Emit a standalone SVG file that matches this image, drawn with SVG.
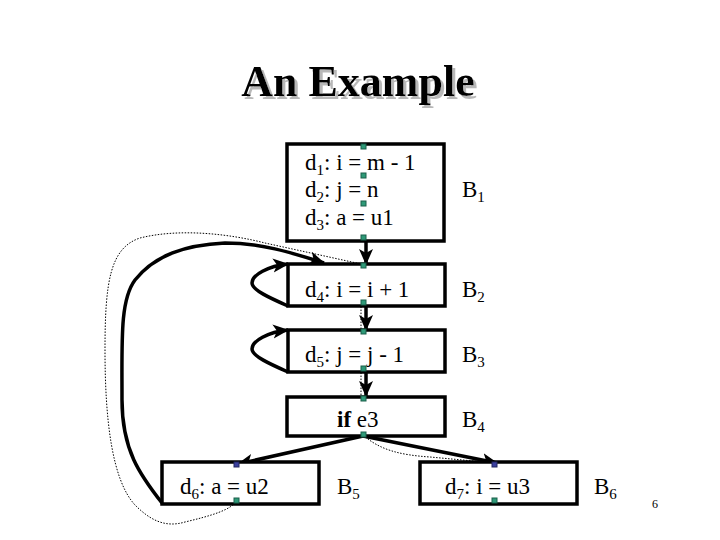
<svg xmlns="http://www.w3.org/2000/svg" width="720" height="540" viewBox="0 0 720 540">
<style>
text{font-family:"Liberation Serif","Times New Roman",Times,"DejaVu Serif",serif}
.box{fill:#fff;stroke:#000;stroke-width:3.5}
.t{font-size:23px;fill:#000}
.sub{font-size:15px}
.ttl{font-weight:bold;font-size:44px}
.edge{fill:none;stroke:#000;stroke-width:3.5}
.dot{fill:none;stroke:#000;stroke-width:1;stroke-dasharray:1.5 1.5}
.g{fill:#2e9a78;stroke:#1b5e4a;stroke-width:1}
.b{fill:#3b3f9e;stroke:#22265e;stroke-width:1}
</style>
<defs>
<marker id="ah" markerUnits="userSpaceOnUse" markerWidth="16" markerHeight="16" viewBox="0 0 16 14" refX="15" refY="7" orient="auto">
<path d="M0,0 L16,7 L0,14 L4,7 z" fill="#000"/>
</marker>
<filter id="shadow" x="-10%" y="-20%" width="120%" height="150%">
<feOffset in="SourceAlpha" dx="3" dy="3" result="off"/>
<feFlood flood-color="#b8b8b8"/>
<feComposite in2="off" operator="in" result="sh"/>
<feMerge><feMergeNode in="sh"/><feMergeNode in="SourceGraphic"/></feMerge>
</filter>
</defs>
<rect width="720" height="540" fill="#fff"/>
<g id="title">
<text class="ttl" x="358" y="96" text-anchor="middle" fill="#000" filter="url(#shadow)">An Example</text>
</g>
<g id="connectors">
<path class="dot" d="M237,500 C232,510 210,516 185,522 C165,528 150,520 135,505 C112,480 105,420 105,350 C105,282 110,248 140,238 C180,228 230,234 265,243 L361,264 L361,434"/>
<path class="dot" d="M236,465 L236,500"/>
<path class="dot" d="M363,435 C380,450 400,455 430,457 L495,463"/>
<path class="edge" d="M366,241 L366,264" marker-end="url(#ah)"/>
<path class="edge" d="M366,306 L366,330" marker-end="url(#ah)"/>
<path class="edge" d="M366,372 L366,396" marker-end="url(#ah)"/>
<path class="edge" d="M288,306 C270,298 252,290 252,283 C252,275 268,266 288,264" marker-end="url(#ah)"/>
<path class="edge" d="M288,372 C270,364 252,356 252,349 C252,341 268,332 288,330" marker-end="url(#ah)"/>
<path class="edge" d="M162,503 C140,475 122,450 122,400 C122,340 120,300 135,280 C155,255 185,245 225,243 C260,243 290,252 324,263" marker-end="url(#ah)"/>
<path class="edge" d="M363,436 L238,464" marker-end="url(#ah)"/>
<path class="edge" d="M363,436 L497,463" marker-end="url(#ah)"/>
</g>
<g id="B1">
<rect class="box" x="287" y="144" width="157" height="97"/>
<text class="t" x="305" y="170">d<tspan class="sub" dy="5">1</tspan><tspan dy="-5">: i = m - 1</tspan></text>
<text class="t" x="305" y="197">d<tspan class="sub" dy="5">2</tspan><tspan dy="-5">: j = n</tspan></text>
<text class="t" x="305" y="225">d<tspan class="sub" dy="5">3</tspan><tspan dy="-5">: a = u1</tspan></text>
<text class="t" x="462" y="197">B<tspan class="sub" dy="5">1</tspan></text>
<rect class="g" x="361" y="144" width="5" height="5"/>
<rect class="g" x="361" y="173" width="5" height="5"/>
<rect class="g" x="361" y="201" width="5" height="5"/>
<rect class="g" x="361" y="235" width="5" height="5"/>
</g>
<g id="B2">
<rect class="box" x="288" y="264" width="157" height="42"/>
<text class="t" x="305" y="297">d<tspan class="sub" dy="5">4</tspan><tspan dy="-5">: i = i + 1</tspan></text>
<text class="t" x="462" y="297">B<tspan class="sub" dy="5">2</tspan></text>
<rect class="g" x="361" y="263" width="5" height="5"/>
<rect class="g" x="361" y="300" width="5" height="5"/>
</g>
<g id="B3">
<rect class="box" x="288" y="330" width="157" height="42"/>
<text class="t" x="305" y="362">d<tspan class="sub" dy="5">5</tspan><tspan dy="-5">: j = j - 1</tspan></text>
<text class="t" x="462" y="362">B<tspan class="sub" dy="5">3</tspan></text>
<rect class="g" x="361" y="329" width="5" height="5"/>
<rect class="g" x="361" y="366" width="5" height="5"/>
</g>
<g id="B4">
<rect class="box" x="287" y="397" width="158" height="39"/>
<text class="t" x="337" y="427"><tspan font-weight="bold">if</tspan> e3</text>
<text class="t" x="462" y="427">B<tspan class="sub" dy="5">4</tspan></text>
<rect class="g" x="361" y="396" width="5" height="5"/>
<rect class="g" x="361" y="432" width="5" height="5"/>
</g>
<g id="B5">
<rect class="box" x="162" y="462" width="157" height="42"/>
<text class="t" x="180" y="494">d<tspan class="sub" dy="5">6</tspan><tspan dy="-5">: a = u2</tspan></text>
<text class="t" x="337" y="494">B<tspan class="sub" dy="5">5</tspan></text>
<rect class="b" x="234" y="462" width="5" height="5"/>
<rect class="g" x="234" y="498" width="5" height="5"/>
</g>
<g id="B6">
<rect class="box" x="420" y="462" width="157" height="42"/>
<text class="t" x="445" y="494">d<tspan class="sub" dy="5">7</tspan><tspan dy="-5">: i = u3</tspan></text>
<text class="t" x="594" y="494">B<tspan class="sub" dy="5">6</tspan></text>
<rect class="b" x="492" y="462" width="5" height="5"/>
<rect class="g" x="492" y="498" width="5" height="5"/>
</g>
<text x="652" y="508" font-size="12" fill="#000">6</text>
</svg>
